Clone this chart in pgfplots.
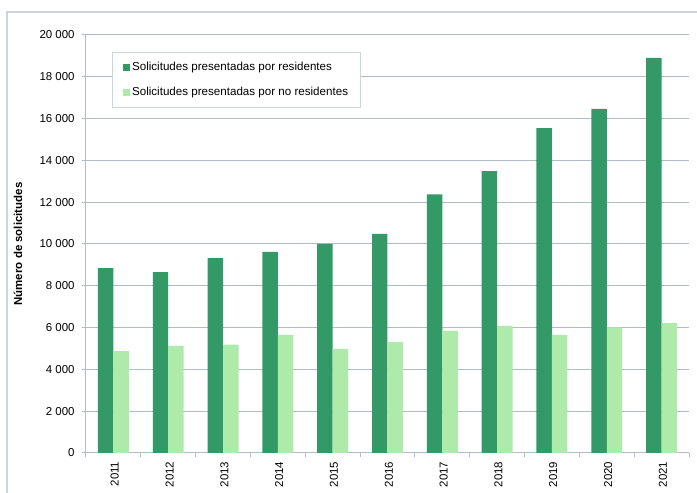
\documentclass[border=0pt]{standalone}
\usepackage{pgfplots}
\pgfplotsset{compat=1.18}
\usepackage{fontspec}
\setmainfont{Liberation Sans}
\definecolor{res}{RGB}{51,153,102}
\definecolor{nores}{RGB}{174,234,170}
\definecolor{gridc}{RGB}{176,188,200}
\definecolor{framec}{RGB}{204,212,220}
\begin{document}
\begin{tikzpicture}
% 1 px of the reference = 0.75pt
\path[use as bounding box] (-64.5pt,-30pt) rectangle (458.25pt,339.75pt);
\draw[framec, line width=0.8pt] (-59.25pt,-30pt) -- (-59.25pt,330.75pt) -- (458.25pt,330.75pt);
\begin{axis}[
    at={(0pt,0pt)}, anchor=south west,
    width=452.25pt, height=313.5pt, scale only axis,
    xmin=-0.5, xmax=10.5, ymin=0, ymax=20000,
    ybar=0pt, bar width=11.6pt,
    axis x line*=bottom, axis y line*=left,
    axis line style={-, draw=gridc, line width=0.75pt},
    xtick={0,...,10},
    xticklabels={2011,2012,2013,2014,2015,2016,2017,2018,2019,2020,2021},
    xtick style={draw=none},
    extra x ticks={-0.5,0.5,...,10.5}, extra x tick labels={},
    extra x tick style={xtick style={draw=gridc, line width=0.75pt}},
    x tick label style={rotate=90, anchor=east, yshift=-1pt},
    ytick={0,2000,...,20000},
    ytick style={draw=gridc, line width=0.75pt},
    tick align=outside, major tick length=3pt,
    ymajorgrids, grid style={gridc, line width=0.75pt},
    scaled y ticks=false,
    yticklabel style={/pgf/number format/1000 sep={\ }, xshift=-2pt},
    /pgf/number format/assume math mode=true,
    tick label style={font=\fontsize{8.6}{10}\selectfont},
    ylabel={Número de solicitudes},
    ylabel style={font=\fontsize{8.6}{10}\selectfont\bfseries, anchor=center,
        at={(axis description cs:-0.1128,0.5)}},
    legend style={at={(axis description cs:0.0431,0.9593)}, anchor=north west,
        draw=framec, line width=0.75pt, inner xsep=8pt, inner ysep=5.5pt, row sep=8.5pt,
        font=\fontsize{8.7}{10}\selectfont, nodes={inner sep=1.5pt}},
    legend cell align=left,
    legend image code/.code={\fill[#1, draw=none] (0pt,-2.6pt) rectangle (5.2pt,2.6pt);},
]
\addplot[fill=res, draw=none] coordinates {
    (0,8850) (1,8660) (2,9320) (3,9620) (4,10010) (5,10480)
    (6,12380) (7,13490) (8,15550) (9,16460) (10,18900)};
\addplot[fill=nores, draw=none] coordinates {
    (0,4870) (1,5120) (2,5180) (3,5650) (4,4980) (5,5300)
    (6,5840) (7,6080) (8,5650) (9,6010) (10,6210)};
\legend{Solicitudes presentadas por residentes,
    Solicitudes presentadas por no residentes\hspace{20pt}}
\end{axis}
\end{tikzpicture}
\end{document}
